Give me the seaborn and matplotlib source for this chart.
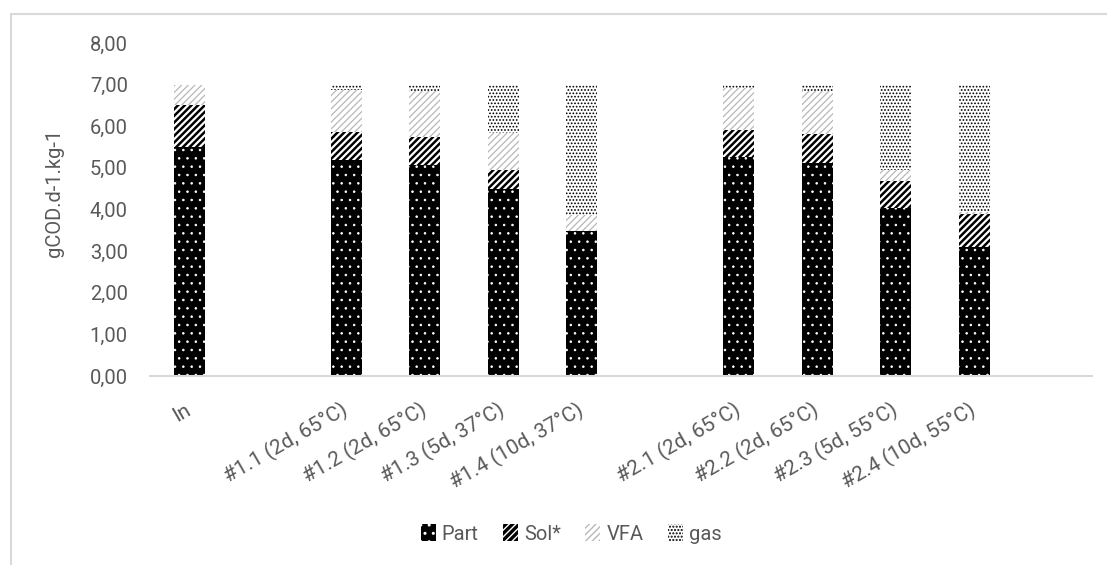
import numpy as np
import pandas as pd
import matplotlib.pyplot as plt
import matplotlib as mpl
from matplotlib.patches import Rectangle, Patch
from matplotlib.ticker import FuncFormatter
import seaborn as sns

# categories (blank strings keep the empty slots between groups)
categories = ["In", " ", "#1.1 (2d, 65°C)", "#1.2 (2d, 65°C)", "#1.3 (5d, 37°C)", "#1.4 (10d, 37°C)",
              "  ", "#2.1 (2d, 65°C)", "#2.2 (2d, 65°C)", "#2.3 (5d, 55°C)", "#2.4 (10d, 55°C)", "   "]
part = [5.49, 0, 5.19, 5.06, 4.50, 3.49, 0, 5.27, 5.11, 4.03, 3.11, 0]
sol = [1.01, 0, 0.66, 0.68, 0.46, 0.00, 0, 0.65, 0.70, 0.66, 0.78, 0]
vfa = [0.50, 0, 1.01, 1.10, 0.88, 0.38, 0, 1.00, 1.03, 0.27, 0.06, 0]
gas = [0.00, 0, 0.14, 0.16, 1.16, 3.13, 0, 0.08, 0.16, 2.04, 3.05, 0]

df = pd.DataFrame({"cat": categories, "Part": part, "Sol*": sol, "VFA": vfa, "gas": gas})
# cumulative tops, drawn from the top series down so lower ones cover
df["c_part"] = df["Part"]
df["c_sol"] = df["c_part"] + df["Sol*"]
df["c_vfa"] = df["c_sol"] + df["VFA"]
df["c_gas"] = df["c_vfa"] + df["gas"]

sns.set_theme(style="white")
plt.rcParams['font.family'] = ['Roboto', 'DejaVu Sans']
txt = "#595959"

fig = plt.figure(figsize=(11.07, 5.65), dpi=100)
ax = fig.add_axes([150/1107, 1-376/565, (1092-150)/1107, (376-43)/565])

# (column, label, face, hatch, hatch colour, hatch lw)
layers = [
    ("c_gas", "gas", "white", ".....", "black", 0.8),
    ("c_vfa", "VFA", "white", "/////", "#b8b8b8", 0.9),
    ("c_sol", "Sol*", "black", "/////", "white", 1.6),
    ("c_part", "Part", "black", "..", "white", 0.6),
]
handles = {}
for col, lab, face, hatch, hcol, hlw in layers:
    with mpl.rc_context({'hatch.linewidth': hlw}):
        sns.barplot(data=df, x="cat", y=col, order=categories, color=face, width=0.4,
                    saturation=1, ax=ax, edgecolor=hcol, linewidth=0, hatch=hatch)
        handles[lab] = Patch(facecolor=face, edgecolor=hcol, linewidth=0, hatch=hatch)

ax.set_ylim(0, 8)
ax.set_yticks(np.arange(0, 9, 1))
ax.yaxis.set_major_formatter(FuncFormatter(lambda v, p: f"{v:.2f}".replace(".", ",")))
ax.tick_params(axis='y', length=0, pad=16, labelsize=14.5, labelcolor=txt)
ax.tick_params(axis='x', length=0, pad=23.5, labelsize=15, labelcolor=txt)
ax.set_xticks(range(len(categories)))
ax.set_xticklabels(categories, rotation=30, ha='right', va='center', rotation_mode='anchor')
ax.set_xlabel("")
ax.set_ylabel("gCOD.d-1.kg-1", fontsize=14.5, color=txt)
ax.yaxis.set_label_coords((64-150)/942, (376-193)/333)
for s in ["top", "right", "left"]:
    ax.spines[s].set_visible(False)
ax.spines["bottom"].set_color("#d9d9d9")
ax.spines["bottom"].set_linewidth(1.5)

order = ["Part", "Sol*", "VFA", "gas"]
fig.legend([handles[k] for k in order], order, loc='center', bbox_to_anchor=(571/1107, 1-534/565),
           ncol=4, frameon=False, fontsize=14.5, handlelength=0.75, handleheight=0.9,
           handletextpad=0.3, columnspacing=1.2, labelcolor=txt)

fig.patches.append(Rectangle((11/1107, -0.1), 1.5, 1.1 - 14/565, transform=fig.transFigure,
                             fill=False, edgecolor="#d9d9d9", linewidth=1.5))

fig.savefig("out.png", dpi=100)
